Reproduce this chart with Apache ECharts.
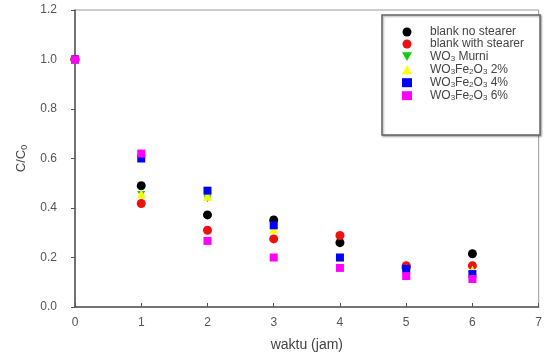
<!DOCTYPE html>
<html><head><meta charset="utf-8">
<script src="https://cdn.jsdelivr.net/npm/echarts@6/dist/echarts.min.js"></script>
<style>html,body{margin:0;padding:0;background:#fff}#c{width:545px;height:360px}</style>
</head><body><div id="c"></div>
<script>
const times = [0, 1, 2, 3, 4, 5, 6];
const blankNoStearer = [1.0, 0.49, 0.372, 0.352, 0.26, 0.16, 0.215];
const blankWithStearer = [1.0, 0.418, 0.31, 0.275, 0.289, 0.167, 0.167];
const wo3Murni = [1.0, 0.455, 0.437, 0.31, 0.2, 0.15, 0.13];
const wo3fe2o3_2 = [1.0, 0.457, 0.447, 0.315, 0.2, 0.155, 0.15];
const wo3fe2o3_4 = [1.0, 0.60, 0.47, 0.33, 0.20, 0.154, 0.133];
const wo3fe2o3_6 = [1.0, 0.62, 0.267, 0.20, 0.158, 0.125, 0.113];
const xTicks = [0, 1, 2, 3, 4, 5, 6, 7];
const yTicks = [0.0, 0.2, 0.4, 0.6, 0.8, 1.0, 1.2];

const triDown = 'path://M0,0 L10,0 L5,8.7 Z';
const seriesDefs = [
  {name: 'blank no stearer', data: blankNoStearer, color: '#000000', symbol: 'circle', size: 9},
  {name: 'blank with stearer', data: blankWithStearer, color: '#ee1111', symbol: 'circle', size: 9},
  {name: 'WO3 Murni', data: wo3Murni, color: '#11cc11', symbol: triDown, size: [8, 7]},
  {name: 'WO3Fe2O3 2%', data: wo3fe2o3_2, color: '#ffff00', symbol: 'triangle', size: 9},
  {name: 'WO3Fe2O3 4%', data: wo3fe2o3_4, color: '#0000ff', symbol: 'rect', size: 8},
  {name: 'WO3Fe2O3 6%', data: wo3fe2o3_6, color: '#ff00ff', symbol: 'rect', size: 8}
];
const legendLabels = {
  'blank no stearer': '{n|blank no stearer}',
  'blank with stearer': '{n|blank with stearer}',
  'WO3 Murni': '{n|WO}{s|3}{n| Murni}',
  'WO3Fe2O3 2%': '{n|WO}{s|3}{n|Fe}{s|2}{n|O}{s|3}{n| 2%}',
  'WO3Fe2O3 4%': '{n|WO}{s|3}{n|Fe}{s|2}{n|O}{s|3}{n| 4%}',
  'WO3Fe2O3 6%': '{n|WO}{s|3}{n|Fe}{s|2}{n|O}{s|3}{n| 6%}'
};

const chart = echarts.init(document.getElementById('c'), null, {renderer: 'canvas'});
chart.setOption({
  animation: false,
  backgroundColor: '#fff',
  textStyle: {fontFamily: 'Liberation Sans, Arial, sans-serif'},
  grid: {left: 75, right: 2, top: 10, bottom: 53, show: true, borderColor: '#999', borderWidth: 1},
  legend: {
    left: 382, top: 15, orient: 'vertical',
    padding: [11, 16, 33, 20],
    itemGap: 0,
    itemWidth: 10, itemHeight: 9,
    backgroundColor: '#fff',
    borderColor: '#666', borderWidth: 1.5,
    shadowColor: 'rgba(0,0,0,0.35)', shadowBlur: 2, shadowOffsetX: 1, shadowOffsetY: 1,
    formatter: n => legendLabels[n],
    textStyle: {
      padding: [0, 0, 0, 13],
      rich: {
        n: {fontSize: 12, lineHeight: 12.6, color: '#444', fontFamily: 'Liberation Sans'},
        s: {fontSize: 8, lineHeight: 12.6, color: '#444', verticalAlign: 'bottom', padding: [5, 0, 0, 0], fontFamily: 'Liberation Sans'}
      }
    },
    data: seriesDefs.map(s => ({name: s.name, icon: s.symbol}))
  },
  xAxis: {
    type: 'value', min: 0, max: 7, interval: 1,
    name: 'waktu (jam)', nameLocation: 'middle', nameGap: 31,
    nameTextStyle: {fontSize: 14, color: '#444'},
    axisLine: {show: true, lineStyle: {color: '#555', width: 1.5}},
    axisTick: {show: true, inside: true, length: 4, lineStyle: {color: '#555'}},
    axisLabel: {fontSize: 12, color: '#555', margin: 10, formatter: v => xTicks.includes(v) ? String(v) : ''},
    splitLine: {show: false}
  },
  yAxis: {
    type: 'value', min: 0, max: 1.2, interval: 0.2,
    name: '{a|C/C}{b|0}', nameLocation: 'middle', nameGap: 44, nameRotate: 90,
    nameTextStyle: {rich: {a: {fontSize: 13, color: '#444'}, b: {fontSize: 9, color: '#444', verticalAlign: 'bottom', padding: [6,0,0,0]}}},
    axisLine: {show: true, lineStyle: {color: '#555', width: 1.5}},
    axisTick: {show: true, inside: false, length: 4, lineStyle: {color: '#555'}},
    axisLabel: {fontSize: 12, color: '#555', margin: 18, formatter: v => yTicks.some(t => Math.abs(t - v) < 1e-9) ? v.toFixed(1) : ''},
    splitLine: {show: false}
  },
  series: seriesDefs.map(s => ({
    name: s.name, type: 'scatter',
    symbol: s.symbol, symbolSize: s.size,
    itemStyle: {color: s.color, opacity: 1},
    data: times.map((t, i) => [t, s.data[i]])
  }))
});
</script></body></html>
